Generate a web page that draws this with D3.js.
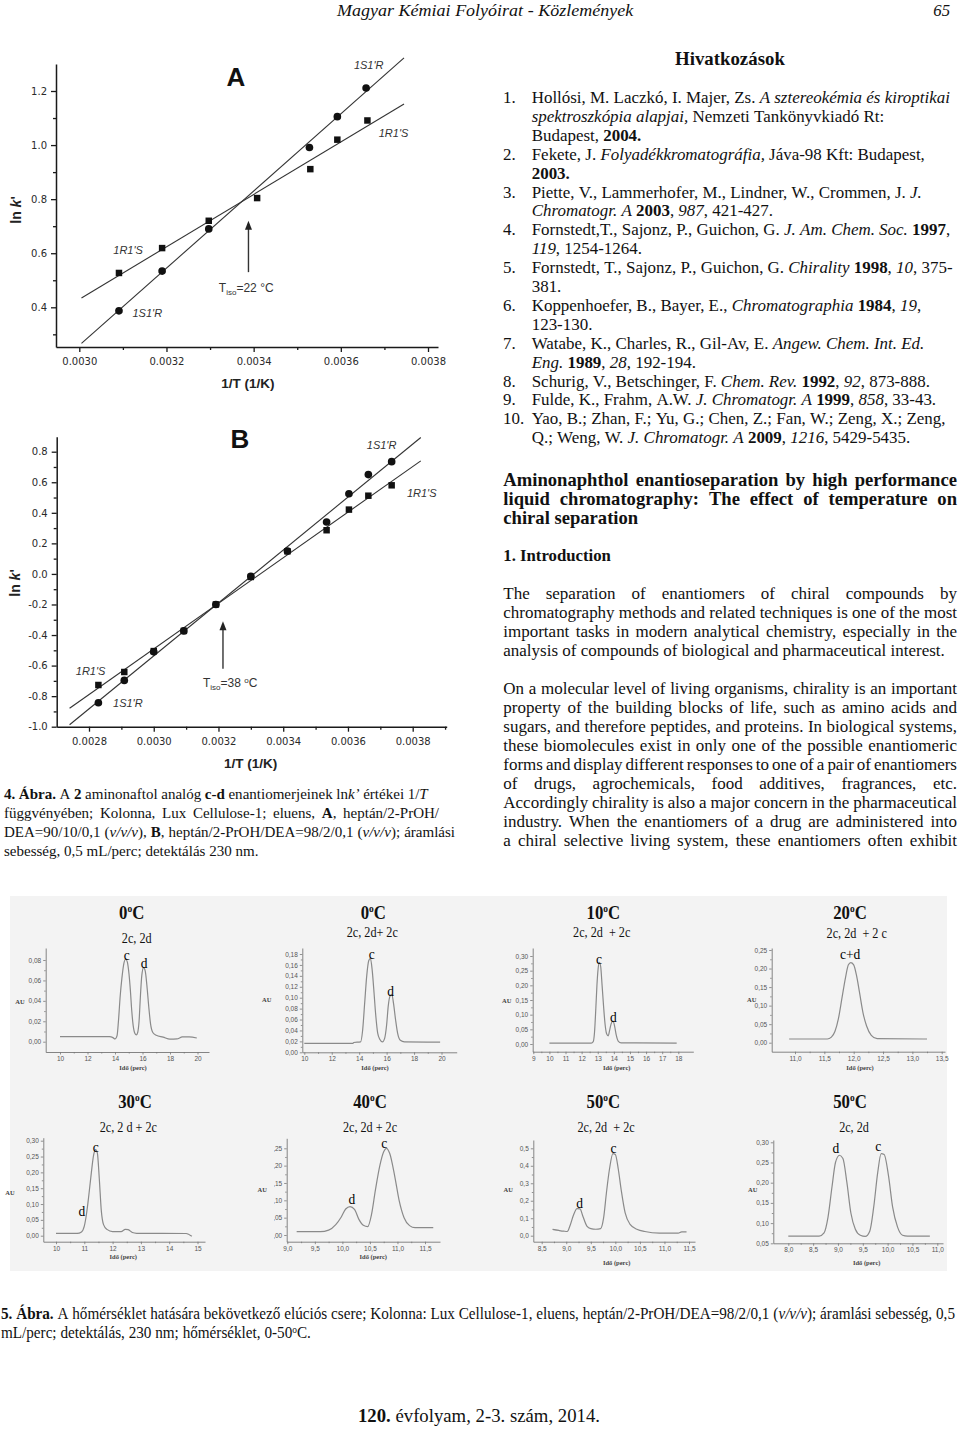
<!DOCTYPE html>
<html><head><meta charset="utf-8">
<script src="https://cdn.jsdelivr.net/npm/d3@7/dist/d3.min.js"></script>
<style>
html,body{margin:0;padding:0;background:#fff;}
svg text{white-space:pre;}
</style></head>
<body><svg id="page" width="960" height="1429" xmlns="http://www.w3.org/2000/svg"></svg>
<script>
// ================= DATA =================
// Fig. 4A  (1/T in 1/K, ln k')
const aInvT_1S1R = [0.003091, 0.003190, 0.003297, 0.003528, 0.003592, 0.003658];
const aLnK_1S1R  = [0.387, 0.534, 0.690, 0.991, 1.105, 1.211];
const aInvT_1R1S = [0.003091, 0.003190, 0.003297, 0.003408, 0.003530, 0.003592, 0.003661];
const aLnK_1R1S  = [0.527, 0.619, 0.720, 0.804, 0.911, 1.020, 1.091];
const aFitRange  = [0.003005, 0.003745];
const aXTicks = [0.0030, 0.0032, 0.0034, 0.0036, 0.0038];
const aXMinor = [0.0031, 0.0033, 0.0035, 0.0037];
const aYTicks = [0.4, 0.6, 0.8, 1.0, 1.2];
const aYMinor = [0.3, 0.5, 0.7, 0.9, 1.1];
const aTiso = 22;           // °C
const aArrow = [0.53, 0.72]; // ln k' span of arrow

// Fig. 4B
const bInvT      = [0.002829, 0.002909, 0.003000, 0.003093, 0.003192, 0.003300, 0.003413, 0.003534, 0.003603, 0.003663, 0.003735];
const bLnK_1S1R  = [-0.843, -0.697, -0.510, -0.373, -0.200, -0.015, 0.150, 0.340, 0.525, 0.650, 0.735];
const bLnK_1R1S  = [-0.727, -0.642, -0.505, -0.373, -0.200, -0.020, 0.148, 0.286, 0.421, 0.512, 0.580];
const bFitRange  = [0.00274, 0.003825];
const bXTicks = [0.0028, 0.0030, 0.0032, 0.0034, 0.0036, 0.0038];
const bXMinor = [0.0029, 0.0031, 0.0033, 0.0035, 0.0037, 0.0039];
const bYTicks = [-1.0, -0.8, -0.6, -0.4, -0.2, 0.0, 0.2, 0.4, 0.6, 0.8];
const bYMinor = [-0.9, -0.7, -0.5, -0.3, -0.1, 0.1, 0.3, 0.5, 0.7];
const bTiso = 38;
const bArrow = [-0.62, -0.31];

// Fig. 5 chromatograms  [time (min), AU]
const chrom0a = [[10,0.0049],[13.6,0.0049],[13.85,0.004],[14.0,0.0027],[14.15,0.006],[14.25,0.02],[14.38,0.045],[14.5,0.062],[14.65,0.077],[14.78,0.081],[14.9,0.078],[15.02,0.066],[15.12,0.05],[15.22,0.03],[15.32,0.016],[15.45,0.008],[15.55,0.0066],[15.65,0.009],[15.75,0.02],[15.85,0.045],[15.95,0.065],[16.08,0.0725],[16.2,0.069],[16.32,0.055],[16.45,0.035],[16.58,0.018],[16.75,0.009],[17.0,0.0063],[17.5,0.0045],[18.0,0.0025],[18.5,0.0027],[18.9,0.0047],[19.4,0.0048],[19.95,0.0036]];
const chrom0b = [[10,0.0165],[13.55,0.0165],[13.6,0.018],[14.1,0.019],[14.25,0.04],[14.4,0.09],[14.55,0.14],[14.7,0.168],[14.82,0.172],[14.95,0.15],[15.08,0.11],[15.2,0.07],[15.35,0.035],[15.5,0.024],[15.7,0.019],[15.85,0.025],[16.0,0.05],[16.12,0.085],[16.25,0.103],[16.38,0.106],[16.5,0.09],[16.65,0.06],[16.8,0.035],[17.0,0.022],[17.3,0.019],[19.9,0.0185]];
const chrom10 = [[10,0.003],[12.6,0.003],[12.72,0.008],[12.8,0.04],[12.88,0.12],[12.95,0.2],[13.02,0.255],[13.1,0.278],[13.18,0.265],[13.27,0.2],[13.36,0.13],[13.45,0.07],[13.55,0.035],[13.65,0.028],[13.75,0.05],[13.85,0.072],[13.95,0.078],[14.05,0.06],[14.15,0.03],[14.27,0.01],[14.45,0.004],[17.9,0.003]];
const chrom20 = [[10.9,0.01],[11.55,0.01],[11.62,0.015],[11.68,0.03],[11.74,0.065],[11.8,0.12],[11.86,0.175],[11.91,0.21],[11.95,0.216],[12.0,0.21],[12.05,0.18],[12.1,0.135],[12.16,0.08],[12.22,0.045],[12.3,0.02],[12.4,0.011],[13.25,0.01]];
const chrom30 = [[10,0.0075],[10.75,0.0075],[10.9,0.012],[11.0,0.03],[11.08,0.07],[11.15,0.12],[11.25,0.2],[11.33,0.255],[11.4,0.272],[11.46,0.262],[11.53,0.18],[11.6,0.08],[11.68,0.035],[11.8,0.02],[12.0,0.013],[12.3,0.013],[12.45,0.02],[12.55,0.019],[12.7,0.01],[12.85,0.0075],[14.6,0.007],[14.8,-0.002]];
const chrom40 = [[9.17,0.0095],[9.6,0.0095],[9.75,0.014],[9.88,0.03],[9.98,0.052],[10.06,0.075],[10.14,0.082],[10.22,0.074],[10.3,0.045],[10.38,0.028],[10.46,0.024],[10.53,0.06],[10.6,0.13],[10.68,0.2],[10.75,0.24],[10.8,0.25],[10.86,0.235],[10.95,0.17],[11.03,0.1],[11.12,0.05],[11.22,0.027],[11.32,0.021],[11.65,0.021]];
const chrom50a = [[8.72,0.036],[8.85,0.03],[8.95,0.026],[9.02,0.024],[9.08,0.06],[9.15,0.12],[9.22,0.155],[9.28,0.153],[9.34,0.11],[9.42,0.055],[9.5,0.04],[9.6,0.037],[9.7,0.04],[9.76,0.1],[9.82,0.25],[9.88,0.38],[9.95,0.47],[10.0,0.465],[10.06,0.38],[10.12,0.26],[10.2,0.13],[10.3,0.065],[10.45,0.035],[10.6,0.024],[10.9,0.015],[11.28,0.015],[11.35,0.022],[11.45,0.022]];
const chrom50b = [[8.0,0.068],[8.62,0.068],[8.72,0.076],[8.8,0.115],[8.88,0.19],[8.95,0.25],[9.03,0.268],[9.1,0.26],[9.18,0.2],[9.26,0.125],[9.35,0.085],[9.45,0.07],[9.55,0.067],[9.64,0.08],[9.72,0.14],[9.8,0.225],[9.87,0.272],[9.93,0.27],[10.02,0.215],[10.1,0.14],[10.2,0.09],[10.3,0.07],[10.4,0.068],[10.85,0.068]];

const chromTemps = [0, 0, 10, 20, 30, 40, 50, 50];
const chromSubs  = ['2c, 2d', '2c, 2d+ 2c', '2c, 2d  + 2c', '2c, 2d  + 2 c', '2c, 2 d + 2c', '2c, 2d + 2c', '2c, 2d  + 2c', '2c, 2d'];
const chromXTicks = [[10,12,14,16,18,20],[10,12,14,16,18,20],[9,10,11,12,13,14,15,16,17,18],[11.0,11.5,12.0,12.5,13.0,13.5],[10,11,12,13,14,15],[9.0,9.5,10.0,10.5,11.0,11.5],[8.5,9.0,9.5,10.0,10.5,11.0,11.5],[8.0,8.5,9.0,9.5,10.0,10.5,11.0]];
const chromYTicks = [[0,0.02,0.04,0.06,0.08],[0,0.02,0.04,0.06,0.08,0.10,0.12,0.14,0.16,0.18],[0,0.05,0.10,0.15,0.20,0.25,0.30],[0,0.05,0.10,0.15,0.20,0.25],[0,0.05,0.10,0.15,0.20,0.25,0.30],[0,0.05,0.10,0.15,0.20,0.25],[0,0.1,0.2,0.3,0.4,0.5],[0.05,0.10,0.15,0.20,0.25,0.30]];
const chromXDec = [0,0,0,1,0,1,1,1];
const chromYDec = [2,2,2,2,2,2,1,2];
const chromPeaks = [
  [['c',14.85,0.085],['d',16.11,0.0772]],
  [['c',14.91,0.1785],['d',16.3,0.111]],
  [['c',13.08,0.29],['d',13.97,0.091]],
  [['c+d',11.94,0.237]],
  [['c',11.4,0.28],['d',10.91,0.076]],
  [['c',10.76,0.264],['d',10.17,0.103]],
  [['c',9.96,0.5],['d',9.27,0.185]],
  [['d',8.96,0.285],['c',9.81,0.289]]
];
const chromSeries = [chrom0a, chrom0b, chrom10, chrom20, chrom30, chrom40, chrom50a, chrom50b];

// ================= LAYOUT =================
const SERIF = '"Liberation Serif","Times New Roman",Times,serif';
const SANS  = '"Liberation Sans",Arial,Helvetica,sans-serif';
const DV    = '"DejaVu Sans",Verdana,sans-serif';
const svg = d3.select('#page');
svg.append('rect').attr('width',960).attr('height',1429).attr('fill','#fff');

function anchored(v0,p0,v1,p1,pa,pb){
  const s = d3.scaleLinear().domain([v0,v1]).range([p0,p1]);
  return d3.scaleLinear().domain([s.invert(pa), s.invert(pb)]).range([pa,pb]);
}
function linreg(xs, ys){
  const mx=d3.mean(xs), my=d3.mean(ys); let sxy=0,sxx=0;
  xs.forEach((x,i)=>{sxy+=(x-mx)*(ys[i]-my); sxx+=(x-mx)*(x-mx);});
  const m=sxy/sxx; return x=>my+m*(x-mx);
}

// ---------- rich text helpers ----------
function parseRuns(markup){
  const runs=[]; let b=false,i=false,s=false,buf='';
  for(const ch of markup){
    if(ch==='*'||ch==='_'||ch==='^'){
      if(buf) runs.push({t:buf,b,i,s}); buf='';
      if(ch==='*') b=!b; else if(ch==='_') i=!i; else s=!s;
    } else buf+=ch;
  }
  if(buf) runs.push({t:buf,b,i,s});
  return runs;
}
function toWords(runs){
  const words=[]; let cur=[];
  runs.forEach(r=>{
    r.t.split(' ').forEach((p,k)=>{
      if(k>0){ if(cur.length) words.push(cur); cur=[]; }
      if(p) cur.push({t:p,b:r.b,i:r.i,s:r.s});
    });
  });
  if(cur.length) words.push(cur);
  return words;
}
function fillWord(t, w){
  w.forEach(p=>{
    const ts=t.append('tspan').text(p.t);
    if(p.b) ts.attr('font-weight','bold');
    if(p.i) ts.attr('font-style','italic');
    if(p.s) ts.attr('baseline-shift','super').style('font-size','0.62em');
  });
}
function measureNatural(markup,size,family){
  const words=toWords(parseRuns(markup));
  const tmp=svg.append('g'); let sum=0;
  words.forEach(w=>{const t=tmp.append('text').attr('font-size',size).attr('font-family',family); fillWord(t,w); sum+=t.node().getComputedTextLength();});
  tmp.remove();
  return sum+size*0.25*(words.length-1);
}
function calibrate(items,s0,family){
  const r=items.map(it=>it.w/measureNatural(it.m,s0,family));
  return s0*d3.median(r);
}
function drawWords(markup,size,family,y,x0,mode,x1,sxFixed,fill){
  const words=toWords(parseRuns(markup));
  const lg=svg.append('g');
  const els=words.map(w=>{const t=lg.append('text').attr('y',y).attr('font-size',size).attr('font-family',family).attr('fill',fill||'#111'); fillWord(t,w); return t;});
  const widths=els.map(e=>e.node().getComputedTextLength());
  const sum=d3.sum(widths), sp=size*0.25, n=words.length, nat=sum+sp*(n-1);
  let gap=sp, sx=sxFixed||1, x=x0;
  if(mode==='justify'&&n>1) gap=(x1-x0-sum)/(n-1);
  if(mode==='fit') sx=(x1-x0)/nat;
  if(mode==='center') x=x0-nat*sx/2;
  let cx=0; els.forEach((e,k)=>{e.attr('x',cx); cx+=widths[k]+gap;});
  lg.attr('transform',`translate(${x},0) scale(${sx},1)`);
  return sx;
}

// ================= FIG 4 (A, B) =================
function arrhenius(c){
  const x=anchored(c.xa[0],c.xa[1],c.xa[2],c.xa[3],c.xe[0],c.xe[1]);
  const y=anchored(c.ya[0],c.ya[1],c.ya[2],c.ya[3],c.ye[0],c.ye[1]);
  const g=svg.append('g');
  g.append('g').attr('transform',`translate(0,${c.ye[0]})`)
    .call(d3.axisBottom(x).tickValues(c.xTicks).tickFormat(d=>d.toFixed(4)).tickSize(5).tickSizeOuter(0).tickPadding(6));
  g.append('g').attr('transform',`translate(0,${c.ye[0]})`)
    .call(d3.axisBottom(x).tickValues(c.xMinor).tickFormat(()=>'').tickSize(3).tickSizeOuter(0)).call(s=>s.select('.domain').remove());
  g.append('g').attr('transform',`translate(${c.xe[0]},0)`)
    .call(d3.axisLeft(y).tickValues(c.yTicks).tickFormat(d=>d.toFixed(1)).tickSize(5).tickSizeOuter(0).tickPadding(4));
  g.append('g').attr('transform',`translate(${c.xe[0]},0)`)
    .call(d3.axisLeft(y).tickValues(c.yMinor).tickFormat(()=>'').tickSize(3).tickSizeOuter(0)).call(s=>s.select('.domain').remove());
  g.selectAll('.domain').attr('stroke','#1a1a1a').attr('stroke-width',1.5);
  g.selectAll('.tick line').attr('stroke','#1a1a1a').attr('stroke-width',1.3);
  g.selectAll('.tick text').attr('font-family',DV).attr('font-size',10).attr('fill','#2a2a2a');

  const line=d3.line().x(d=>x(d[0])).y(d=>y(d[1]));
  c.series.forEach(s=>{
    const f=linreg(s.xs,s.ys);
    g.append('path').attr('d',line(c.fit.map(v=>[v,f(v)]))).attr('fill','none').attr('stroke','#333').attr('stroke-width',1.1);
  });
  c.series.forEach(s=>{
    const sym=d3.symbol(s.shape==='circle'?d3.symbolCircle:d3.symbolSquare, s.shape==='circle'?46:42);
    g.selectAll(null).data(d3.zip(s.xs,s.ys)).join('path').attr('d',sym)
      .attr('transform',d=>`translate(${x(d[0])},${y(d[1])})`).attr('fill','#111');
  });
  c.labels.forEach(l=>{
    g.append('text').attr('x',x(l.x)).attr('y',y(l.y)).attr('dy','0.35em').attr('text-anchor','middle')
     .attr('font-family',SANS).attr('font-style','italic').attr('font-size',11).attr('fill','#333').text(l.t);
  });
  // isoenantioselective temperature arrow
  const xi=x(1/(c.tiso+273.15));
  const ya=y(c.arrow[0]), yb=y(c.arrow[1]);
  g.append('line').attr('x1',xi).attr('x2',xi).attr('y1',ya).attr('y2',yb+7).attr('stroke','#333').attr('stroke-width',1.4);
  g.append('path').attr('d',`M${xi},${yb} L${xi-3.5},${yb+9} L${xi+3.5},${yb+9} Z`).attr('fill','#222');
  const tt=g.append('text').attr('x',x(c.isoLab[0])).attr('y',y(c.isoLab[1])).attr('dy','0.35em').attr('text-anchor','middle')
    .attr('font-family',SANS).attr('font-size',12).attr('fill','#333');
  tt.append('tspan').text('T');
  tt.append('tspan').text('iso').attr('font-size',8).attr('dy',3);
  if(c.supDeg){
    tt.append('tspan').text('='+c.tiso+' ').attr('dy',-3);
    tt.append('tspan').text('o').attr('font-size',8).attr('dy',-4);
    tt.append('tspan').text('C').attr('dy',4);
  } else {
    tt.append('tspan').text('='+c.tiso+' °C').attr('dy',-3);
  }
  // panel letter & axis titles
  g.append('text').attr('x',c.letter[0]).attr('y',c.letter[1]).attr('text-anchor','middle').attr('font-family',SANS)
    .attr('font-weight','bold').attr('font-size',26).attr('fill','#111').text(c.letter[2]);
  g.append('text').attr('x',c.xTitle[0]).attr('y',c.xTitle[1]).attr('text-anchor','middle').attr('font-family',SANS)
    .attr('font-weight','bold').attr('font-size',13.5).attr('fill','#222').text('1/T (1/K)');
  const yt=g.append('text').attr('transform',`translate(${c.yTitle[0]},${c.yTitle[1]}) rotate(-90)`).attr('text-anchor','middle')
    .attr('dy','0.35em').attr('font-family',SANS).attr('font-weight','bold').attr('font-size',14).attr('fill','#222');
  yt.append('tspan').text('ln ');
  yt.append('tspan').text('k').attr('font-style','italic');
  yt.append('tspan').text("'");
}

arrhenius({
  xa:[0.0030,79.3,0.0038,428], xe:[56,438], ya:[0.4,307.3,1.2,91], ye:[347,64],
  xTicks:aXTicks, xMinor:aXMinor, yTicks:aYTicks, yMinor:aYMinor, fit:aFitRange,
  series:[{xs:aInvT_1S1R,ys:aLnK_1S1R,shape:'circle'},{xs:aInvT_1R1S,ys:aLnK_1R1S,shape:'square'}],
  labels:[{t:"1S1'R",x:0.003664,y:1.296},{t:"1R1'S",x:0.003721,y:1.044},{t:"1R1'S",x:0.003112,y:0.611},{t:"1S1'R",x:0.003156,y:0.379}],
  tiso:aTiso, arrow:aArrow, isoLab:[0.003383,0.471], supDeg:false,
  letter:[236,86,'A'], xTitle:[248,388], yTitle:[16,210]
});
arrhenius({
  xa:[0.0028,89,0.0038,412.7], xe:[56.7,446.7], ya:[-1.0,726.7,0.8,451.7], ye:[726.7,436.7],
  xTicks:bXTicks, xMinor:bXMinor, yTicks:bYTicks, yMinor:bYMinor, fit:bFitRange,
  series:[{xs:bInvT,ys:bLnK_1S1R,shape:'circle'},{xs:bInvT,ys:bLnK_1R1S,shape:'square'}],
  labels:[{t:"1S1'R",x:0.003704,y:0.841},{t:"1R1'S",x:0.003828,y:0.527},{t:"1R1'S",x:0.002805,y:-0.634},{t:"1S1'R",x:0.00292,y:-0.843}],
  tiso:bTiso, arrow:bArrow, isoLab:[0.003236,-0.714], supDeg:true,
  letter:[240,448,'B'], xTitle:[250.7,768], yTitle:[15,583]
});

// ================= FIG 5 chromatograms =================
svg.append('rect').attr('x',10).attr('y',896).attr('width',937).attr('height',375).attr('fill','#f3f3f3');
const chromLayout = [
  {x:[10,60,20,197.5], xe:[45.7,209],   y:[0,1041.7,0.08,960],  ye:[1052,948],    tc:[131.7,918.5], sc:[136.7,942.5], au:[20,1002],   xl:[133,1068]},
  {x:[10,304.3,20,441.5], xe:[302.3,456.7], y:[0,1052.3,0.18,954], ye:[1052.3,948], tc:[373.3,918.5], sc:[372.3,936.5], au:[266.7,1000], xl:[375,1068]},
  {x:[9,533.3,18,678.3], xe:[532.7,693.3], y:[0,1044,0.30,956],  ye:[1051.7,948],  tc:[603.3,918.5], sc:[601.7,936.5], au:[506.7,1001], xl:[616.7,1068]},
  {x:[11,795,13.5,941.7], xe:[771.7,945],  y:[0,1042.7,0.25,950], ye:[1051.7,948],  tc:[850,918.5],   sc:[856.7,937.5], au:[751.7,1000], xl:[860,1068]},
  {x:[10,56,15,197.5], xe:[43.3,205],     y:[0,1235.7,0.30,1140.7], ye:[1241.7,1137.7], tc:[135,1108], sc:[128.3,1132], au:[10,1192.7], xl:[123.3,1257]},
  {x:[9,287.3,11.5,425], xe:[286.7,440],  y:[0,1235,0.25,1148.3],  ye:[1241.7,1138.3], tc:[370,1108], sc:[370,1132], au:[262.3,1190], xl:[373.3,1257], clip:274},
  {x:[8.5,541.7,11.5,689], xe:[533.3,695], y:[0,1235.7,0.5,1148.3], ye:[1241.7,1140], tc:[603.3,1108], sc:[606,1132], au:[508.3,1190], xl:[616.7,1263]},
  {x:[8.0,788.3,11.0,937.3], xe:[773.3,943], y:[0.05,1243.3,0.30,1142.3], ye:[1243.3,1140], tc:[850,1108], sc:[854,1132], au:[752.7,1190], xl:[866.7,1263]}
];
function compressedText(cx,by,size,weight,sx,build){
  const g=svg.append('g').attr('transform',`translate(${cx},${by}) scale(${sx},1)`);
  const t=g.append('text').attr('text-anchor','middle').attr('font-family',SERIF).attr('font-size',size).attr('font-weight',weight).attr('fill','#111');
  build(t); return t;
}
chromSeries.forEach((data,k)=>{
  const L=chromLayout[k];
  const x=anchored(L.x[0],L.x[1],L.x[2],L.x[3],L.xe[0],L.xe[1]);
  const y=anchored(L.y[0],L.y[1],L.y[2],L.y[3],L.ye[0],L.ye[1]);
  const g=svg.append('g');
  const xt=chromXTicks[k], yt=chromYTicks[k];
  const xMin=d3.pairs(xt).map(p=>(p[0]+p[1])/2), yMin=d3.pairs(yt).map(p=>(p[0]+p[1])/2);
  g.append('g').attr('transform',`translate(0,${L.ye[0]})`)
    .call(d3.axisBottom(x).tickValues(xt).tickFormat(d=>d.toFixed(chromXDec[k]).replace('.',',')).tickSize(2.5).tickSizeOuter(0).tickPadding(2));
  g.append('g').attr('transform',`translate(0,${L.ye[0]})`)
    .call(d3.axisBottom(x).tickValues(xMin).tickFormat(()=>'').tickSize(1.5).tickSizeOuter(0)).call(s=>s.select('.domain').remove());
  const ay=g.append('g').attr('transform',`translate(${L.xe[0]},0)`)
    .call(d3.axisLeft(y).tickValues(yt).tickFormat(d=>d.toFixed(chromYDec[k]).replace('.',',')).tickSize(2.5).tickSizeOuter(0).tickPadding(2));
  g.append('g').attr('transform',`translate(${L.xe[0]},0)`)
    .call(d3.axisLeft(y).tickValues(yMin).tickFormat(()=>'').tickSize(1.5).tickSizeOuter(0)).call(s=>s.select('.domain').remove());
  g.selectAll('.domain').attr('stroke','#777').attr('stroke-width',0.9);
  g.selectAll('.tick line').attr('stroke','#777').attr('stroke-width',0.8);
  g.selectAll('.tick text').attr('font-family',SANS).attr('font-size',6.5).attr('fill','#555');
  if(L.clip){
    // clip rect expressed in the axis group's (x-translated) coordinate system
    const id='clipy'+k;
    svg.append('clipPath').attr('id',id).attr('clipPathUnits','userSpaceOnUse').append('rect')
      .attr('x',L.clip-L.xe[0]).attr('y',L.ye[1]-10).attr('width',L.xe[0]-L.clip+6).attr('height',L.ye[0]-L.ye[1]+20);
    ay.attr('clip-path',`url(#${id})`);
  }
  g.append('path').attr('d',d3.line().x(d=>x(d[0])).y(d=>y(d[1])).curve(d3.curveMonotoneX)(data))
    .attr('fill','none').attr('stroke','#8a8a8a').attr('stroke-width',1.2);
  chromPeaks[k].forEach(p=>{
    g.append('g').attr('transform',`translate(${x(p[1])},${y(p[2])}) scale(0.87,1)`)
     .append('text').attr('text-anchor','middle').attr('dy','0.3em').attr('font-family',SERIF).attr('font-size',15.5).attr('fill','#000').text(p[0]);
  });
  compressedText(L.tc[0],L.tc[1],19.5,'bold',0.86,t=>{
    t.append('tspan').text(String(chromTemps[k]));
    t.append('tspan').text('o').attr('font-size',11).attr('dy',-7);
    t.append('tspan').text('C').attr('dy',7);
  });
  compressedText(L.sc[0],L.sc[1],14,'normal',0.87,t=>t.text(chromSubs[k]));
  g.append('text').attr('x',L.au[0]).attr('y',L.au[1]).attr('dy','0.35em').attr('text-anchor','middle').attr('font-family',SERIF)
    .attr('font-weight','bold').attr('font-size',6.5).attr('fill','#444').text('AU');
  g.append('text').attr('x',L.xl[0]).attr('y',L.xl[1]).attr('dy','0.35em').attr('text-anchor','middle').attr('font-family',SERIF)
    .attr('font-weight','bold').attr('font-size',6.5).attr('fill','#444').text('Idő (perc)');
});

// ================= TEXT =================
// header
drawWords('_Magyar Kémiai Folyóirat - Közlemények_',17,SERIF,16.5,337,'fit',633.3);
drawWords('_65_',17,SERIF,16.5,933.3,'fit',950);
// references
drawWords('*Hivatkozások*',19,SERIF,65.5,675,'fit',785);
const refLines = [
  ['1.','Hollósi, M. Laczkó, I. Majer, Zs. _A sztereokémia és kiroptikai_',953.3],
  ['','_spektroszkópia alapjai,_ Nemzeti Tankönyvkiadó Rt:',843.3],
  ['','Budapest, *2004.*',635],
  ['2.','Fekete, J. _Folyadékkromatográfia,_ Jáva-98 Kft: Budapest,',926.7],
  ['','*2003.*',553.3],
  ['3.','Piette, V., Lammerhofer, M., Lindner, W., Crommen, J. _J._',923.3],
  ['','_Chromatogr. A_ *2003*, _987_, 421-427.',781.7],
  ['4.','Fornstedt,T., Sajonz, P., Guichon, G. _J. Am. Chem. Soc._ *1997*,',952.7],
  ['','_119_, 1254-1264.',636.7],
  ['5.','Fornstedt, T., Sajonz, P., Guichon, G. _Chirality_ *1998*, _10_, 375-',951.7],
  ['','381.',560],
  ['6.','Koppenhoefer, B., Bayer, E., _Chromatographia_ *1984*, _19_,',916.7],
  ['','123-130.',590],
  ['7.','Watabe, K., Charles, R., Gil-Av, E. _Angew. Chem. Int. Ed._',925],
  ['','_Eng._ *1989*, _28_, 192-194.',696.7],
  ['8.','Schurig, V., Betschinger, F. _Chem. Rev._ *1992*, _92_, 873-888.',930],
  ['9.','Fulde, K., Frahm, A.W. _J. Chromatogr. A_ *1999*, _858_, 33-43.',935],
  ['10.','Yao, B.; Zhan, F.; Yu, G.; Chen, Z.; Fan, W.; Zeng, X.; Zeng,',938.3],
  ['','Q.; Weng, W. _J. Chromatogr. A_ *2009*, _1216_, 5429-5435.',908.3]
];
const refX=531.7;
const refSize=calibrate(refLines.filter(r=>r[2]-refX>150).map(r=>({m:r[1],w:r[2]-refX})),16,SERIF);
refLines.forEach((r,i)=>{
  const by=98+i*18.9+refSize*0.3;
  if(r[0]) drawWords(r[0],refSize,SERIF,by,503,'left');
  drawWords(r[1],refSize,SERIF,by,refX,'left');
});
// title
const titleLines=['Aminonaphthol enantioseparation by high performance','liquid chromatography: The effect of temperature on','chiral separation'];
const titleSize=calibrate([{m:'*chiral separation*',w:638.3-503.3}],18,SERIF);
titleLines.forEach((t,i)=>drawWords('*'+t+'*',titleSize,SERIF,480+i*19+titleSize*0.3,503.3,i<2?'justify':'left',957));
drawWords('*1. Introduction*',16.5,SERIF,556.5+5,503.3,'fit',611);
// paragraphs
const para1=['The separation of enantiomers of chiral compounds by','chromatography methods and related techniques is one of the most','important tasks in modern analytical chemistry, especially in the','analysis of compounds of biological and pharmaceutical interest.'];
const para2=['On a molecular level of living organisms, chirality is an important','property of the building blocks of life, such as amino acids and','sugars, and therefore peptides, and proteins. In biological systems,','these biomolecules exist in only one of the possible enantiomeric','forms and display different responses to one of a pair of enantiomers','of drugs, agrochemicals, food additives, fragrances, etc.','Accordingly chirality is also a major concern in the pharmaceutical','industry. When the enantiomers of a drug are administered into','a chiral selective living system, these enantiomers often exhibit'];
const paraSize=calibrate([{m:para1[3],w:945-503.3}],16,SERIF);
para1.forEach((t,i)=>drawWords(t,paraSize,SERIF,594+i*19+paraSize*0.3,503.3,i<3?'justify':'left',957));
para2.forEach((t,i)=>drawWords(t,paraSize,SERIF,689+i*19+paraSize*0.3,503.3,'justify',957));
// Fig 4 caption
const cap4=[
  ['*4. Ábra.* A *2* aminonaftol analóg *c-d* enantiomerjeinek ln_k’_ értékei 1/_T_',427.7],
  ['függvényében; Kolonna, Lux Cellulose-1; eluens, *A*, heptán/2-PrOH/',439],
  ['DEA=90/10/0,1 (_v/v/v_), *B*, heptán/2-PrOH/DEA=98/2/0,1 (_v/v/v_); áramlási',455],
  ['sebesség, 0,5 mL/perc; detektálás 230 nm.',258]
];
const cap4Size=calibrate(cap4.map(c=>({m:c[0],w:c[1]-4})),15,SERIF);
cap4.forEach((c,i)=>drawWords(c[0],cap4Size,SERIF,794+i*19+cap4Size*0.3,4,i<3?'justify':'left',c[1]));
// Fig 5 caption
const sx5=drawWords('*5. Ábra.* A hőmérséklet hatására bekövetkező elúciós csere; Kolonna: Lux Cellulose-1, eluens, heptán/2-PrOH/DEA=98/2/0,1 (_v/v/v_); áramlási sebesség, 0,5',16,SERIF,1314+4.8,1,'fit',955);
drawWords('mL/perc; detektálás, 230 nm; hőmérséklet, 0-50^o^C.',16,SERIF,1333+4.8,1,'left',null,sx5);
// footer
drawWords('*120.* évfolyam, 2-3. szám, 2014.',18,SERIF,1417+5.4,358,'fit',600);
</script></body></html>
